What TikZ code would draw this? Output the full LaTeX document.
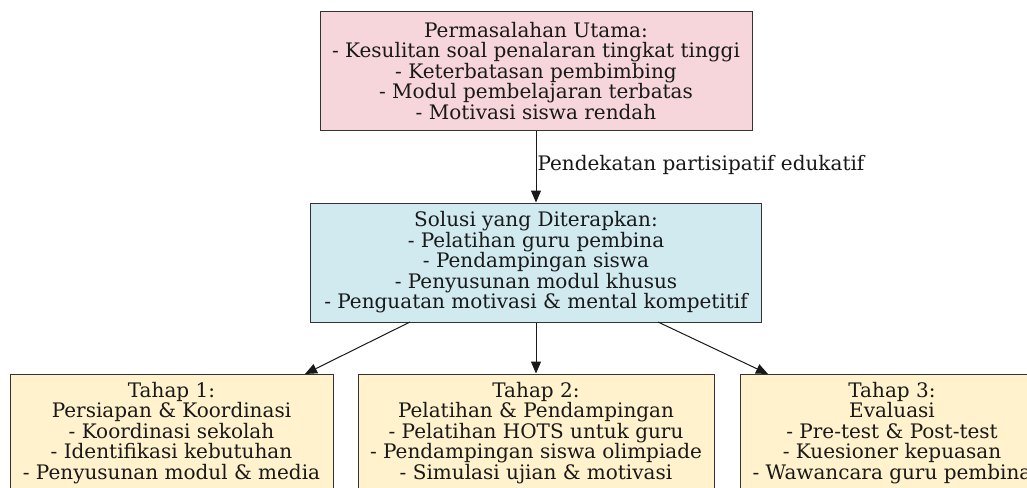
\documentclass[tikz,border=0pt]{standalone}
\usepackage{fontspec}
\setmainfont{DejaVu Serif}
\usetikzlibrary{arrows.meta}
\definecolor{pinkfill}{RGB}{247,214,219}
\definecolor{bluefill}{RGB}{208,234,240}
\definecolor{creamfill}{RGB}{255,242,204}
\definecolor{edgegray}{RGB}{51,51,51}
\tikzset{
  box/.style={draw=edgegray, line width=1pt, rectangle, align=center, inner sep=0pt,
    font=\fontsize{20}{20.5}\selectfont, text=black!90},
  conn/.style={draw=black!90, line width=1pt, -{Triangle[length=12pt,width=10pt]}},
  lbl/.style={font=\fontsize{20}{20.5}\selectfont, text=black!90, inner sep=0pt}
}
\begin{document}
\begin{tikzpicture}[x=1pt,y=-1pt]
\useasboundingbox (0,0) rectangle (1027,487);
\clip (0,0) rectangle (1027,487);
\fill[white] (0,0) rectangle (1027,487);
\node[box, fill=pinkfill, minimum width=432pt, minimum height=118pt] (prob) at (536,71)
  {Permasalahan Utama:\\- Kesulitan soal penalaran tingkat tinggi\\- Keterbatasan pembimbing\\- Modul pembelajaran terbatas\\- Motivasi siswa rendah};
\node[box, fill=bluefill, minimum width=451pt, minimum height=119pt] (sol) at (536,262.5)
  {Solusi yang Diterapkan:\\- Pelatihan guru pembina\\- Pendampingan siswa\\- Penyusunan modul khusus\\- Penguatan motivasi \& mental kompetitif};
\node[box, fill=creamfill, minimum width=323pt, minimum height=118pt] (t1) at (171.5,433)
  {Tahap 1:\\Persiapan \& Koordinasi\\- Koordinasi sekolah\\- Identifikasi kebutuhan\\- Penyusunan modul \& media};
\node[box, fill=creamfill, minimum width=356pt, minimum height=118pt] (t2) at (536,433)
  {Tahap 2:\\Pelatihan \& Pendampingan\\- Pelatihan HOTS untuk guru\\- Pendampingan siswa olimpiade\\- Simulasi ujian \& motivasi};
\node[box, fill=creamfill, minimum width=304pt, minimum height=118pt] (t3) at (892,433)
  {Tahap 3:\\Evaluasi\\- Pre-test \& Post-test\\- Kuesioner kepuasan\\- Wawancara guru pembina};
\coordinate (s1) at (410,322);
\coordinate (s3) at (658,322);
\coordinate (e1) at (305,374);
\coordinate (e3) at (768,374);
\draw[conn] (prob.south) -- node[lbl, right, xshift=1pt, yshift=2pt] {Pendekatan partisipatif edukatif} (sol.north);
\draw[conn] (s1) -- (e1);
\draw[conn] (sol.south) -- (t2.north);
\draw[conn] (s3) -- (e3);
\end{tikzpicture}
\end{document}
